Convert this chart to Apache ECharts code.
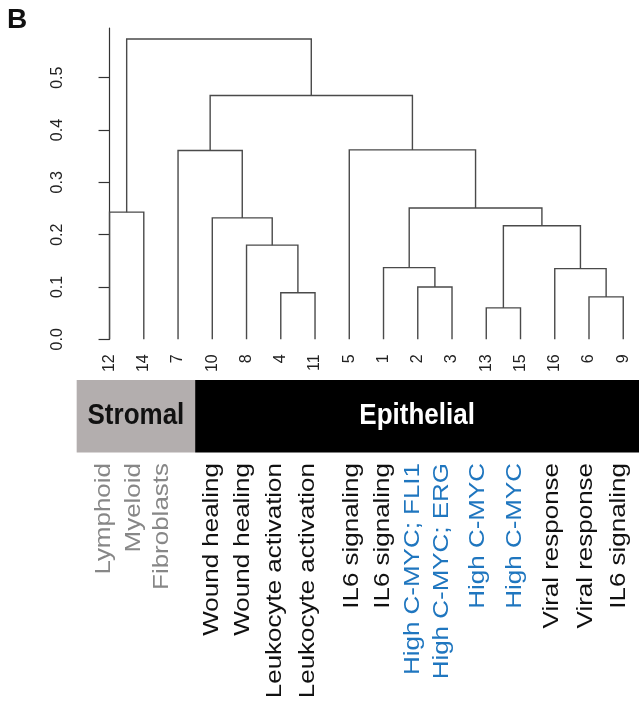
<!DOCTYPE html>
<html>
<head>
<meta charset="utf-8">
<script src="https://cdn.jsdelivr.net/npm/echarts@6/dist/echarts.min.js"></script>
<style>
  html, body { margin: 0; padding: 0; background: #fff; }
  #dendro { width: 639px; height: 704px; }
</style>
</head>
<body>
<div id="dendro"></div>
<script>
// leaves, left to right
var leafOrder = ['12', '14', '7', '10', '8', '4', '11', '5', '1', '2', '3', '13', '15', '16', '6', '9'];
// hclust style merges: negative = leaf id, positive = earlier merge (1-based)
var mergeLeft = [-13, -6, -4, -2, -16, -1, -8, 1, -10, -12, 6, -7, -5, 12, 10];
var mergeRight = [-15, -9, -11, -3, 2, 4, 3, 5, 7, -14, 8, 9, 11, 13, 14];
var mergeHeight = [0.060, 0.081, 0.089, 0.100, 0.135, 0.137, 0.180, 0.217, 0.232, 0.243, 0.251, 0.361, 0.362, 0.466, 0.574];
var yTicks = [0, 0.1, 0.2, 0.3, 0.4, 0.5];

// tissue groups (leaf-index spans)
var groupNames = ['Stromal', 'Epithelial'];
var groupFrom = [-0.96, 2.5];
var groupTo = [2.5, 15.46];

// annotation under each cluster
var annotText = ['Lymphoid', 'Myeloid', 'Fibroblasts', 'Wound healing', 'Wound healing',
  'Leukocyte activation', 'Leukocyte activation', 'IL6 signaling', 'IL6 signaling',
  'High C-MYC; FLI1', 'High C-MYC; ERG', 'High C-MYC', 'High C-MYC',
  'Viral response', 'Viral response', 'IL6 signaling'];
var annotPos = [-0.17, 0.71, 1.54, 3.0, 3.9, 4.83, 5.79, 7.08, 7.99, 8.86, 9.72, 10.76, 11.84, 12.92, 13.9, 14.87];
var annotKind = ['s', 's', 's', 'e', 'e', 'e', 'e', 'e', 'e', 'm', 'm', 'm', 'm', 'e', 'e', 'e'];

var FONT = 'Liberation Sans, Arial, Helvetica, sans-serif';
var kindColor = { s: '#878787', e: '#111', m: '#1f76bf' };
var groupFill = ['#b3aeae', '#000'];
var groupInk = ['#111', '#fff'];

// leaf x and merge centres
var leafPos = {};
leafOrder.forEach(function (id, i) { leafPos[id] = i; });
var nodeX = [];
function xOf(ref) { return ref < 0 ? leafPos[String(-ref)] : nodeX[ref - 1]; }
function hOf(ref) { return ref < 0 ? 0 : mergeHeight[ref - 1]; }
var links = [];
for (var k = 0; k < mergeHeight.length; k++) {
  var xl = xOf(mergeLeft[k]), xr = xOf(mergeRight[k]);
  nodeX.push((xl + xr) / 2);
  links.push([xl, hOf(mergeLeft[k]), xr, hOf(mergeRight[k]), mergeHeight[k]]);
}

var chart = echarts.init(document.getElementById('dendro'));
var option = {
  animation: false,
  grid: { left: 89, right: 0, top: 28, bottom: 364.7 },
  xAxis: {
    type: 'value', min: -0.6, max: 15.46,
    axisLine: { show: false }, axisTick: { show: false }, splitLine: { show: false },
    axisLabel: {
      customValues: leafOrder.map(function (d, i) { return i; }),
      formatter: function (v) { return leafOrder[v]; },
      rotate: 90, margin: 15, fontSize: 16, color: '#222', fontFamily: FONT
    }
  },
  yAxis: {
    type: 'value', min: 0, max: 0.595,
    splitLine: { show: false },
    axisLine: { show: true, lineStyle: { color: '#333', width: 1.2 } },
    axisTick: { show: true, length: 11, customValues: yTicks, lineStyle: { color: '#333', width: 1.2 } },
    axisLabel: {
      customValues: yTicks,
      formatter: function (v) { return v.toFixed(1); },
      rotate: 90, margin: 23, fontSize: 16, color: '#222', fontFamily: FONT
    }
  },
  graphic: [{
    type: 'text', left: 7, top: 6,
    style: { text: 'B', fontSize: 28, fontWeight: 'bold', fontFamily: FONT, fill: '#111' }
  }],
  series: [
    {
      type: 'custom', name: 'tree', clip: false,
      data: links,
      encode: { x: [0, 2], y: [1, 3, 4] },
      renderItem: function (params, api) {
        var a = api.coord([api.value(0), api.value(1)]);
        var b = api.coord([api.value(0), api.value(4)]);
        var c = api.coord([api.value(2), api.value(4)]);
        var d = api.coord([api.value(2), api.value(3)]);
        return {
          type: 'polyline',
          shape: { points: [a, b, c, d] },
          style: { stroke: '#4a4a4a', lineWidth: 1.4, fill: null }
        };
      }
    },
    {
      type: 'custom', name: 'groups', clip: false,
      data: groupNames.map(function (n, i) { return [groupFrom[i], groupTo[i], i]; }),
      encode: { x: [0, 1] },
      renderItem: function (params, api) {
        var i = api.value(2);
        var x0 = api.coord([api.value(0), 0])[0];
        var x1 = api.coord([api.value(1), 0])[0];
        var top = 380, bottom = 452.5;
        return {
          type: 'group',
          children: [{
            type: 'rect',
            shape: { x: x0, y: top, width: x1 - x0, height: bottom - top },
            style: { fill: groupFill[i] }
          }, {
            type: 'text',
            x: (x0 + x1) / 2, y: (top + bottom) / 2, scaleY: 1.15,
            style: {
              text: groupNames[i], fill: groupInk[i], fontSize: 26, fontWeight: 'bold',
              fontFamily: FONT, align: 'center', verticalAlign: 'middle'
            }
          }]
        };
      }
    },
    {
      type: 'custom', name: 'annotations', clip: false,
      data: annotText.map(function (t, i) { return [annotPos[i], 0, i]; }),
      encode: { x: 0, y: 1 },
      renderItem: function (params, api) {
        var i = api.value(2);
        var p = api.coord([api.value(0), 0]);
        return {
          type: 'text',
          x: p[0], y: 463, rotation: Math.PI / 2, scaleX: 1.18,
          style: {
            text: annotText[i], fill: kindColor[annotKind[i]], fontSize: 22,
            fontFamily: FONT, align: 'right', verticalAlign: 'middle'
          }
        };
      }
    }
  ]
};
chart.setOption(option);
</script>
</body>
</html>
